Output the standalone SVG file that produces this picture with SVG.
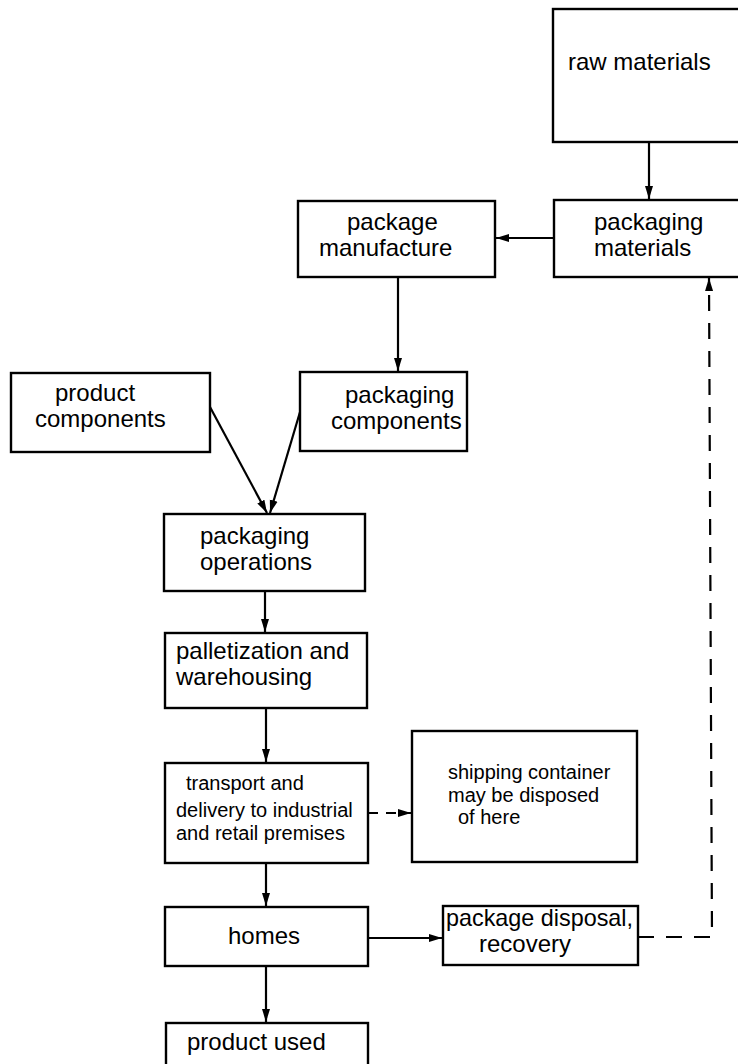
<svg xmlns="http://www.w3.org/2000/svg" width="738" height="1064" viewBox="0 0 738 1064">
  <style>
    .box { fill: #ffffff; stroke: #000000; stroke-width: 2.4; }
    .lbl { font-family: "Liberation Sans", Arial, sans-serif; font-size: 24px; fill: #000000; }
    .sm { font-size: 20px; }
    .link { fill: none; stroke: #000000; stroke-width: 2.2; }
    .dash { stroke-dasharray: 16 12; }
    .dash-short { stroke-dasharray: 10 8; }
  </style>
  <defs>
    <marker id="arrow" markerUnits="userSpaceOnUse" markerWidth="14" markerHeight="10" viewBox="0 0 14 10" refX="13" refY="5" orient="auto">
      <path d="M0,1 L13,5 L0,9 Z" fill="#000000"/>
    </marker>
  </defs>
  <rect width="738" height="1064" fill="#ffffff"/>

  <!-- flow connectors -->
  <g id="connectors">
    <path class="link" d="M649,142 V199" marker-end="url(#arrow)"/>
    <path class="link" d="M554,238 H496" marker-end="url(#arrow)"/>
    <path class="link" d="M398,277 V371" marker-end="url(#arrow)"/>
    <path class="link" d="M210,407 L267,513" marker-end="url(#arrow)"/>
    <path class="link" d="M300,412 L270,513" marker-end="url(#arrow)"/>
    <path class="link" d="M265,591 V632" marker-end="url(#arrow)"/>
    <path class="link" d="M266,708 V762" marker-end="url(#arrow)"/>
    <path class="link dash-short" d="M368,813 H411" marker-end="url(#arrow)"/>
    <path class="link" d="M266,863 V906" marker-end="url(#arrow)"/>
    <path class="link" d="M266,966 V1022" marker-end="url(#arrow)"/>
    <path class="link" d="M368,938 H442" marker-end="url(#arrow)"/>
    <path class="link dash" d="M638,937 H712 L709,278" marker-end="url(#arrow)"/>
  </g>

  <g id="raw-materials">
    <rect class="box" x="553" y="9" width="200" height="133"/>
    <text class="lbl" x="568" y="70">raw materials</text>
  </g>

  <g id="packaging-materials">
    <rect class="box" x="554" y="200" width="200" height="77"/>
    <text class="lbl" x="594" y="230">packaging</text>
    <text class="lbl" x="594" y="256">materials</text>
  </g>

  <g id="package-manufacture">
    <rect class="box" x="298" y="201" width="197" height="76"/>
    <text class="lbl" x="347" y="230">package</text>
    <text class="lbl" x="319" y="256">manufacture</text>
  </g>

  <g id="product-components">
    <rect class="box" x="11" y="373" width="199" height="79"/>
    <text class="lbl" x="55" y="401">product</text>
    <text class="lbl" x="35" y="427">components</text>
  </g>

  <g id="packaging-components">
    <rect class="box" x="300" y="372" width="167" height="79"/>
    <text class="lbl" x="345" y="403">packaging</text>
    <text class="lbl" x="331" y="429">components</text>
  </g>

  <g id="packaging-operations">
    <rect class="box" x="164" y="514" width="201" height="77"/>
    <text class="lbl" x="200" y="544">packaging</text>
    <text class="lbl" x="200" y="570">operations</text>
  </g>

  <g id="palletization">
    <rect class="box" x="165" y="633" width="202" height="75"/>
    <text class="lbl" x="176" y="659">palletization and</text>
    <text class="lbl" x="176" y="685">warehousing</text>
  </g>

  <g id="transport">
    <rect class="box" x="165" y="763" width="203" height="100"/>
    <text class="lbl sm" x="186" y="790">transport and</text>
    <text class="lbl sm" x="176" y="817">delivery to industrial</text>
    <text class="lbl sm" x="176" y="840">and retail premises</text>
  </g>

  <g id="shipping-container">
    <rect class="box" x="412" y="731" width="225" height="131"/>
    <text class="lbl sm" x="448" y="779">shipping container</text>
    <text class="lbl sm" x="448" y="802">may be disposed</text>
    <text class="lbl sm" x="458" y="824">of here</text>
  </g>

  <g id="homes">
    <rect class="box" x="165" y="907" width="203" height="59"/>
    <text class="lbl" x="228" y="944">homes</text>
  </g>

  <g id="package-disposal">
    <rect class="box" x="443" y="906" width="195" height="59"/>
    <text class="lbl" x="446" y="926" textLength="187" lengthAdjust="spacingAndGlyphs">package disposal,</text>
    <text class="lbl" x="479" y="952">recovery</text>
  </g>

  <g id="product-used">
    <rect class="box" x="166" y="1023" width="202" height="60"/>
    <text class="lbl" x="187" y="1050">product used</text>
  </g>
</svg>
